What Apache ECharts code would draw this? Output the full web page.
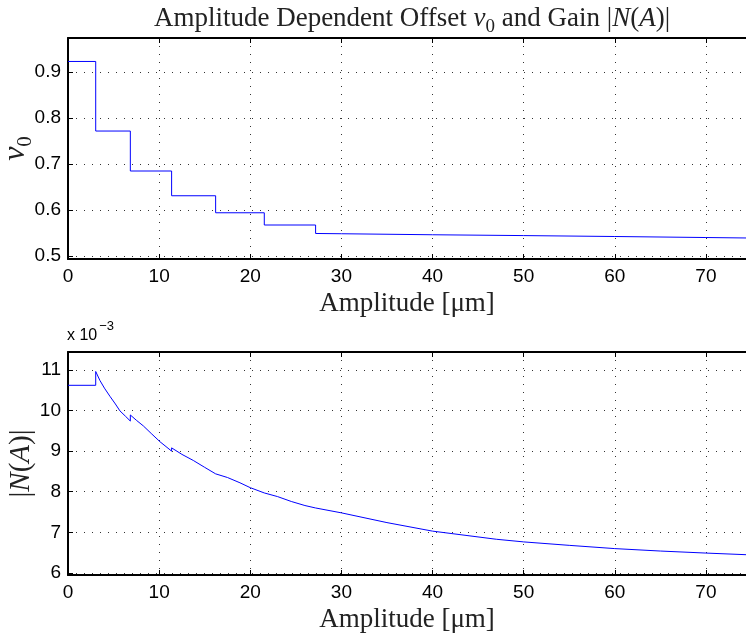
<!DOCTYPE html>
<html>
<head>
<meta charset="utf-8">
<script src="https://cdn.jsdelivr.net/npm/echarts@6/dist/echarts.min.js"></script>
<style>html,body{margin:0;padding:0;background:#fff;}#c{width:746px;height:633px;}</style>
</head>
<body>
<div id="c"></div>
<script>
// ---- data ----
const xTicks = [0, 10, 20, 30, 40, 50, 60, 70];
const v0Ticks = [0.5, 0.6, 0.7, 0.8, 0.9];
const gainTicks = [6, 7, 8, 9, 10, 11];

const offsetAmp = [0, 3.04, 3.04, 6.84, 6.84, 11.37, 11.37, 16.2, 16.2, 21.54, 21.54, 27.17, 27.17, 30, 40, 50, 60, 70, 74.4];
const offsetV0  = [0.923, 0.923, 0.7717, 0.7717, 0.6848, 0.6848, 0.631, 0.631, 0.594, 0.594, 0.5674, 0.5674, 0.549, 0.5484, 0.5462, 0.5444, 0.5424, 0.5402, 0.5392];

const gainAmp = [0, 3.04, 3.04, 3.5, 4.0, 4.6, 5.2, 5.7, 6.3, 6.84, 6.84, 7.5, 8.27, 9.2, 10.1, 11.37, 11.37, 12.5, 13.75, 15, 16.2, 16.2, 17.5, 18.87, 20, 21.54, 21.54, 23, 24.5, 26, 27.17, 27.17, 30, 35, 40, 47, 50, 55, 60, 65, 70, 74.4];
const gainVal = [10.62, 10.62, 10.96, 10.74, 10.55, 10.35, 10.16, 9.99, 9.86, 9.74, 9.89, 9.76, 9.62, 9.42, 9.23, 9.0, 9.08, 8.92, 8.77, 8.6, 8.44, 8.48, 8.35, 8.22, 8.1, 7.97, 8.01, 7.88, 7.76, 7.66, 7.6, 7.62, 7.48, 7.24, 7.03, 6.83, 6.765, 6.68, 6.6, 6.54, 6.49, 6.45];

// ---- chart ----
const chart = echarts.init(document.getElementById('c'), null, {renderer: 'canvas'});
const sans = 'Liberation Sans';
const serif = 'Liberation Serif';
const ink = '#222';
const axisLineStyle = {color: '#000', width: 2};
const gridLine = {show: true, lineStyle: {type: [1, 7], color: '#333', width: 1}};

function bottomX(gi) {
  return {
    type: 'value', gridIndex: gi, position: 'bottom', min: 0, max: 74.4,
    axisLine: {show: true, onZero: false, lineStyle: axisLineStyle},
    axisTick: {show: true, inside: true, length: 5, customValues: xTicks, lineStyle: {color: '#000', width: 1}},
    axisLabel: {show: true, customValues: xTicks, color: '#000', fontSize: 19, fontFamily: sans, margin: 8},
    splitLine: gridLine,
    name: 'Amplitude [μm]', nameLocation: 'middle', nameGap: 31,
    nameTextStyle: {fontFamily: serif, fontSize: 27, color: ink}
  };
}
function topX(gi) {
  return {
    type: 'value', gridIndex: gi, position: 'top', min: 0, max: 74.4,
    axisLine: {show: true, onZero: false, lineStyle: axisLineStyle},
    axisTick: {show: true, inside: true, length: 5, customValues: xTicks, lineStyle: {color: '#000', width: 1}},
    axisLabel: {show: false}, splitLine: {show: false}
  };
}

const option = {
  animation: false,
  backgroundColor: '#fff',
  title: {
    text: '{n|Amplitude Dependent Offset }{i|v}{s|0}{n| and Gain |}{i|N}{n|(}{i|A}{n|)|}',
    left: 407, top: 0, textAlign: 'center',
    textStyle: {
      fontFamily: serif, fontSize: 27, fontWeight: 'normal', color: ink,
      rich: {
        n: {fontFamily: serif, fontSize: 27, lineHeight: 30, verticalAlign: 'top', color: ink},
        i: {fontFamily: serif, fontSize: 27, lineHeight: 30, verticalAlign: 'top', fontStyle: 'italic', color: ink},
        s: {fontFamily: serif, fontSize: 19, lineHeight: 19, verticalAlign: 'top', padding: [13, 0, 0, 0], color: ink}
      }
    }
  },
  grid: [
    {left: 68, top: 38, right: 0, height: 221, containLabel: false, outerBoundsMode: 'none'},
    {left: 68, top: 352, right: 0, height: 223, containLabel: false, outerBoundsMode: 'none'}
  ],
  xAxis: [bottomX(0), topX(0), bottomX(1), topX(1)],
  yAxis: [
    {
      type: 'value', gridIndex: 0, min: 0.4935, max: 0.974,
      axisLine: {show: true, onZero: false, lineStyle: axisLineStyle},
      axisTick: {show: true, inside: true, length: 5, customValues: v0Ticks, lineStyle: {color: '#000', width: 1}},
      axisLabel: {customValues: v0Ticks, color: '#000', fontSize: 19, fontFamily: sans, margin: 7, formatter: v => v.toFixed(1)},
      splitLine: gridLine,
      name: '{i|v}{s|0}', nameLocation: 'middle', nameGap: 34, nameRotate: 90, nameMoveOverlap: false,
      nameTextStyle: {
        fontFamily: serif, fontSize: 32, color: ink,
        rich: {
          i: {fontFamily: serif, fontSize: 32, lineHeight: 34, verticalAlign: 'top', fontStyle: 'italic', color: ink},
          s: {fontFamily: serif, fontSize: 21, lineHeight: 21, verticalAlign: 'top', padding: [15, 0, 0, 0], color: ink}
        }
      }
    },
    {
      type: 'value', gridIndex: 1, min: 5.95, max: 11.44,
      axisLine: {show: true, onZero: false, lineStyle: axisLineStyle},
      axisTick: {show: true, inside: true, length: 5, customValues: gainTicks, lineStyle: {color: '#000', width: 1}},
      axisLabel: {customValues: gainTicks, color: '#000', fontSize: 19, fontFamily: sans, margin: 7},
      splitLine: gridLine,
      name: '|{i|N}({i|A})|', nameLocation: 'middle', nameGap: 32, nameRotate: 90, nameMoveOverlap: false,
      nameTextStyle: {
        fontFamily: serif, fontSize: 29, color: ink,
        rich: {i: {fontFamily: serif, fontSize: 29, fontStyle: 'italic', color: ink}}
      }
    }
  ],
  graphic: [{
    type: 'text', left: 67, top: 320,
    style: {
      text: '{n|x 10}{s|−3}', fill: '#000',
      rich: {
        n: {fontSize: 16, lineHeight: 18, fontFamily: sans, fill: '#000', verticalAlign: 'top', padding: [8, 0, 0, 0]},
        s: {fontSize: 13, lineHeight: 15, fontFamily: sans, fill: '#000', verticalAlign: 'top', padding: [0, 0, 0, 2]}
      }
    }
  }],
  series: [
    {
      type: 'line', xAxisIndex: 0, yAxisIndex: 0, showSymbol: false, symbol: 'none',
      lineStyle: {color: '#0000ff', width: 1}, clip: true,
      data: offsetAmp.map((a, i) => [a, offsetV0[i]])
    },
    {
      type: 'line', xAxisIndex: 2, yAxisIndex: 1, showSymbol: false, symbol: 'none',
      lineStyle: {color: '#0000ff', width: 1}, clip: true,
      data: gainAmp.map((a, i) => [a, gainVal[i]])
    }
  ]
};
chart.setOption(option);
</script>
</body>
</html>
